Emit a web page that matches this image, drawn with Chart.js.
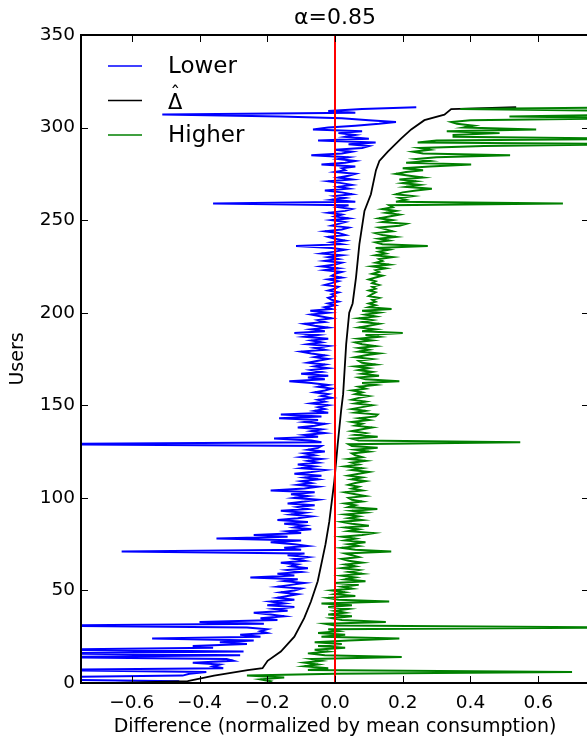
<!DOCTYPE html>
<html>
<head>
<meta charset="utf-8">
<title>alpha=0.85</title>
<script src="https://cdn.jsdelivr.net/npm/chart.js@4.4.1/dist/chart.umd.min.js"></script>
<style>
  html, body { margin: 0; padding: 0; background: #fff; overflow: hidden; }
  #wrap { width: 589px; height: 740px; }
</style>
</head>
<body>
<div id="wrap"><canvas id="chart" width="589" height="740"></canvas></div>
<script>
// per-user bounds, index = user number (0..311)
const lowerBound = [
  -0.62, -0.46, -0.9, -0.9, -0.45, -0.43, -0.38, -0.9, -0.33, -0.36,
  -0.34, -0.42, -0.30, -0.32, -0.9, -0.28, -0.9, -0.27, -0.9, -0.36,
  -0.42, -0.26, -0.34, -0.24, -0.54, -0.22, -0.28, -0.20, -0.22, -0.20,
  -0.26, -0.9, -0.21, -0.40, -0.17, -0.22, -0.15, -0.19, -0.24, -0.14,
  -0.18, -0.12, -0.20, -0.15, -0.19, -0.12, -0.17, -0.14, -0.11, -0.16,
  -0.12, -0.10, -0.17, -0.13, -0.09, -0.15, -0.11, -0.25, -0.12, -0.17,
  -0.10, -0.14, -0.08, -0.13, -0.11, -0.16, -0.09, -0.12, -0.08, -0.14,
  -0.09, -0.63, -0.10, -0.15, -0.08, -0.12, -0.19, -0.10, -0.35, -0.14,
  -0.24, -0.10, -0.14, -0.07, -0.12, -0.09, -0.15, -0.08, -0.17, -0.11,
  -0.07, -0.13, -0.09, -0.16, -0.08, -0.11, -0.06, -0.14, -0.09, -0.05,
  -0.12, -0.08, -0.13, -0.06, -0.19, -0.09, -0.05, -0.11, -0.07, -0.10,
  -0.05, -0.09, -0.04, -0.12, -0.07, -0.03, -0.10, -0.06, -0.11, -0.05,
  -0.08, -0.04, -0.10, -0.06, -0.09, -0.03, -0.08, -0.05, -0.04, -0.9,
  -0.04, -0.07, -0.18, -0.05, -0.09, -0.03, -0.07, -0.04, -0.11, -0.06,
  -0.03, -0.09, -0.05, -0.165, -0.04, -0.16, -0.02, -0.06, -0.03, -0.05,
  -0.02, -0.07, -0.03, -0.05, -0.01, -0.04, -0.02, -0.06, -0.03, -0.01,
  -0.05, -0.02, -0.07, -0.135, -0.03, -0.08, -0.02, -0.10, -0.04, -0.07,
  -0.02, -0.06, -0.03, -0.08, -0.05, -0.02, -0.06, -0.03, -0.07, -0.10,
  -0.03, -0.06, -0.02, -0.08, -0.04, -0.07, -0.02, -0.09, -0.05, -0.12,
  -0.03, -0.07, -0.02, -0.06, -0.09, -0.03, -0.05, -0.01, -0.04, -0.07,
  -0.02, -0.073, -0.01, -0.03, 0.00, -0.02, 0.01, -0.01, -0.02, 0.00,
  -0.01, 0.01, -0.02, 0.00, 0.01, -0.03, -0.01, 0.01, -0.02, 0.02,
  -0.01, 0.00, 0.02, -0.03, 0.01, -0.04, 0.00, 0.02, -0.03, 0.01,
  -0.02, 0.02, -0.04, 0.00, 0.03, -0.01, -0.115, 0.02, -0.01, 0.03,
  0.00, -0.02, 0.03, 0.01, -0.03, 0.02, 0.04, -0.01, 0.01, 0.03,
  -0.01, 0.04, 0.00, 0.02, -0.02, 0.03, 0.05, 0.01, 0.04, -0.36,
  0.06, -0.01, 0.03, 0.00, 0.05, 0.02, -0.03, 0.04, 0.01, 0.05,
  0.02, -0.02, 0.05, 0.01, 0.04, 0.06, 0.00, 0.03, 0.02, 0.06,
  -0.04, 0.03, 0.06, 0.01, 0.04, -0.07, 0.02, 0.05, 0.00, 0.08,
  0.10, 0.04, 0.12, -0.05, 0.10, 0.03, 0.06, 0.01, 0.08, -0.065,
  -0.02, 0.06, 0.13, 0.18, 0.10, 0.02, -0.16, -0.51, 0.06, -0.02, 0.08, 0.24
];

const higherBound = [
  -0.20, -0.19, -0.22, -0.15, -0.26, 0.00, 0.70, -0.08, -0.02, -0.09,
  -0.05, -0.09, -0.04, -0.07, 0.197, -0.03, -0.08, -0.02, -0.06, 0.03,
  -0.05, 0.02, -0.06, 0.04, 0.19, -0.04, 0.03, -0.05, 0.01, -0.02,
  0.9, 0.00, -0.03, 0.15, 0.02, -0.01, 0.05, -0.02, 0.03, 0.00,
  0.04, -0.02, 0.05, -0.04, 0.16, 0.01, -0.02, 0.06, 0.00, 0.03,
  -0.01, 0.05, 0.02, 0.07, 0.00, 0.09, 0.03, 0.06, 0.02, 0.08,
  0.04, 0.07, 0.02, 0.06, 0.03, 0.08, 0.04, 0.02, 0.07, 0.05,
  0.03, 0.166, 0.06, 0.02, 0.07, 0.04, 0.09, 0.03, 0.06, 0.02,
  0.08, 0.114, 0.04, 0.07, 0.03, 0.10, 0.05, 0.02, 0.08, 0.04,
  0.07, 0.03, 0.09, 0.05, 0.125, 0.04, 0.06, 0.03, 0.08, 0.05,
  0.04, 0.09, 0.06, 0.03, 0.08, 0.05, 0.07, 0.04, 0.06, 0.09,
  0.05, 0.08, 0.04, 0.07, 0.10, 0.05, 0.08, 0.03, 0.07, 0.05,
  0.09, 0.04, 0.08, 0.06, 0.05, 0.10, 0.06, 0.126, 0.05, 0.04,
  0.547, 0.07, 0.05, 0.126, 0.06, 0.09, 0.05, 0.08, 0.11, 0.06,
  0.08, 0.05, 0.10, 0.07, 0.12, 0.126, 0.06, 0.09, 0.05, 0.08,
  0.11, 0.06, 0.09, 0.05, 0.07, 0.10, 0.06, 0.08, 0.05, 0.09,
  0.07, 0.12, 0.08, 0.19, 0.09, 0.07, 0.13, 0.08, 0.11, 0.07,
  0.10, 0.06, 0.12, 0.08, 0.07, 0.11, 0.06, 0.09, 0.13, 0.07,
  0.10, 0.07, 0.12, 0.08, 0.06, 0.11, 0.07, 0.13, 0.09, 0.20,
  0.08, 0.12, 0.07, 0.10, 0.13, 0.08, 0.11, 0.07, 0.12, 0.09,
  0.13, 0.08, 0.167, 0.10, 0.12, 0.10, 0.12, 0.11, 0.13, 0.10,
  0.11, 0.12, 0.10, 0.12, 0.11, 0.13, 0.11, 0.12, 0.10, 0.12,
  0.14, 0.11, 0.13, 0.12, 0.15, 0.11, 0.16, 0.12, 0.14, 0.13,
  0.17, 0.12, 0.15, 0.13, 0.16, 0.12, 0.274, 0.14, 0.12, 0.16,
  0.13, 0.18, 0.14, 0.12, 0.17, 0.15, 0.13, 0.19, 0.21, 0.14,
  0.17, 0.13, 0.16, 0.19, 0.15, 0.18, 0.14, 0.17, 0.16, 0.673,
  0.18, 0.21, 0.19, 0.23, 0.18, 0.20, 0.24, 0.286, 0.21, 0.25,
  0.20, 0.24, 0.19, 0.26, 0.22, 0.18, 0.21, 0.26, 0.20, 0.28,
  0.402, 0.21, 0.28, 0.24, 0.30, 0.517, 0.26, 0.23, 0.28, 0.25,
  0.44, 0.9, 0.244, 0.30, 0.9, 0.35, 0.35, 0.486, 0.33, 0.594,
  0.38, 0.41, 0.36, 0.343, 0.40, 0.9, 0.515, 0.9, 0.9, 0.9, 0.37, 0.9
];

// sorted estimate (delta hat), read at its bends
const deltaUsers = [0, 1, 4, 7, 8, 12, 17, 25, 35, 44, 55, 68, 75, 87, 109, 129, 147, 156,
  183, 200, 205, 219, 237, 255, 264, 277, 282, 287, 294, 299, 304, 307, 310, 311];
const deltaValues = [-0.65, -0.435, -0.357, -0.258, -0.214, -0.199, -0.16, -0.12, -0.091,
  -0.071, -0.051, -0.036, -0.028, -0.017, -0.002, 0.008, 0.018, 0.024, 0.033, 0.042, 0.052,
  0.062, 0.072, 0.087, 0.106, 0.121, 0.131, 0.156, 0.195, 0.225, 0.264, 0.323, 0.343, 0.535];

const xTicks = [-0.6, -0.4, -0.2, 0.0, 0.2, 0.4, 0.6];
const yTicks = [0, 50, 100, 150, 200, 250, 300, 350];
const zeroLine = 0;

const FONT = 'DejaVu Sans';
Chart.defaults.font.family = FONT;
Chart.defaults.color = '#000';

const fmtTick = (v) => v.toFixed(1).replace('-', '\u2212');

// matplotlib style box: inward ticks on all sides + spines
const framePlugin = {
  id: 'frame',
  afterDatasetsDraw(chart) {
    const { ctx, chartArea: a, scales: { x, y } } = chart;
    ctx.save();
    ctx.strokeStyle = '#000';
    ctx.lineWidth = 1;
    ctx.beginPath();
    x.ticks.forEach((t) => {
      const px = Math.round(x.getPixelForValue(t.value)) + 0.5;
      ctx.moveTo(px, a.bottom); ctx.lineTo(px, a.bottom - 7);
      ctx.moveTo(px, a.top); ctx.lineTo(px, a.top + 7);
    });
    y.ticks.forEach((t) => {
      const py = Math.round(y.getPixelForValue(t.value)) + 0.5;
      ctx.moveTo(a.left, py); ctx.lineTo(a.left + 7, py);
      ctx.moveTo(a.right, py); ctx.lineTo(a.right - 7, py);
    });
    ctx.stroke();
    ctx.lineWidth = 2;
    ctx.strokeRect(a.left, a.top, a.right - a.left, a.bottom - a.top);
    ctx.restore();
  },
};

// legend inside the axes, top left, no frame
const legendPlugin = {
  id: 'innerLegend',
  afterDraw(chart) {
    const { ctx, chartArea: a } = chart;
    const items = chart.data.datasets.filter((d) => d.inLegend);
    ctx.save();
    ctx.textBaseline = 'middle';
    ctx.textAlign = 'left';
    items.forEach((d, i) => {
      const yy = a.top + 31 + i * 34.5;
      const tx = a.left + 87;
      ctx.strokeStyle = d.borderColor;
      ctx.lineWidth = 1.6;
      ctx.beginPath();
      ctx.moveTo(a.left + 27, yy);
      ctx.lineTo(a.left + 61, yy);
      ctx.stroke();
      ctx.fillStyle = '#000';
      if (d.label.endsWith('\u0302')) {
        // math style hat: draw the base letter, then centre the hat over it
        const base = d.label.slice(0, -1);
        ctx.font = '21px ' + FONT;
        ctx.textBaseline = 'alphabetic';
        ctx.fillText(base, tx, yy + 8.5);
        const w = ctx.measureText(base).width;
        ctx.textAlign = 'center';
        ctx.font = '20px ' + FONT;
        ctx.fillText('\u02c6', tx + w / 2, yy - 1);
        ctx.textAlign = 'left';
        ctx.textBaseline = 'middle';
      } else {
        ctx.font = '23px ' + FONT;
        ctx.fillText(d.label, tx, yy + 1);
      }
    });
    ctx.restore();
  },
};

new Chart(document.getElementById('chart'), {
  type: 'scatter',
  data: {
    datasets: [
      {
        label: 'Lower',
        inLegend: true,
        data: lowerBound.map((v, i) => ({ x: v, y: i })),
        borderColor: '#0000ff',
        borderWidth: 2,
        showLine: true,
        pointRadius: 0,
        order: 3,
      },
      {
        label: '\u0394\u0302',
        inLegend: true,
        data: deltaUsers.map((u, i) => ({ x: deltaValues[i], y: u })),
        borderColor: '#000000',
        borderWidth: 1.8,
        showLine: true,
        pointRadius: 0,
        order: 2,
      },
      {
        label: 'Higher',
        inLegend: true,
        data: higherBound.map((v, i) => ({ x: v, y: i })),
        borderColor: '#008000',
        borderWidth: 2,
        showLine: true,
        pointRadius: 0,
        order: 1,
      },
      {
        label: 'zero',
        data: [{ x: zeroLine, y: yTicks[0] }, { x: zeroLine, y: yTicks[yTicks.length - 1] }],
        borderColor: '#ff0000',
        borderWidth: 2,
        showLine: true,
        pointRadius: 0,
        order: 0,
      },
    ],
  },
  options: {
    responsive: false,
    animation: false,
    layout: { padding: 0 },
    plugins: {
      legend: { display: false },
      tooltip: { enabled: false },
      title: {
        display: true,
        fullSize: false,
        text: '\u03b1=0.85',
        font: { size: 22, weight: 'normal' },
        color: '#000',
        padding: { top: 5.5, bottom: 3.1 },
      },
    },
    scales: {
      x: {
        type: 'linear',
        min: -0.75,
        max: 0.75,
        afterBuildTicks: (s) => { s.ticks = xTicks.map((v) => ({ value: v })); },
        afterFit: (s) => { s.height = 57; },
        grid: { display: false, drawTicks: false },
        border: { display: false },
        ticks: { font: { size: 18.5 }, color: '#000', padding: 9, callback: fmtTick, maxRotation: 0 },
        title: {
          display: true,
          text: 'Difference (normalized by mean consumption)',
          font: { size: 19 },
          color: '#000',
          padding: { top: 0, bottom: 1.1 },
        },
      },
      y: {
        type: 'linear',
        min: 0,
        max: 350,
        afterBuildTicks: (s) => { s.ticks = yTicks.map((v) => ({ value: v })); },
        afterFit: (s) => { s.width = 81; },
        grid: { display: false, drawTicks: false },
        border: { display: false },
        ticks: { font: { size: 18.5 }, color: '#000', padding: 6 },
        title: {
          display: true,
          text: 'Users',
          font: { size: 19 },
          color: '#000',
          padding: { top: 6.6, bottom: 0 },
        },
      },
    },
  },
  plugins: [framePlugin, legendPlugin],
});
</script>
</body>
</html>
